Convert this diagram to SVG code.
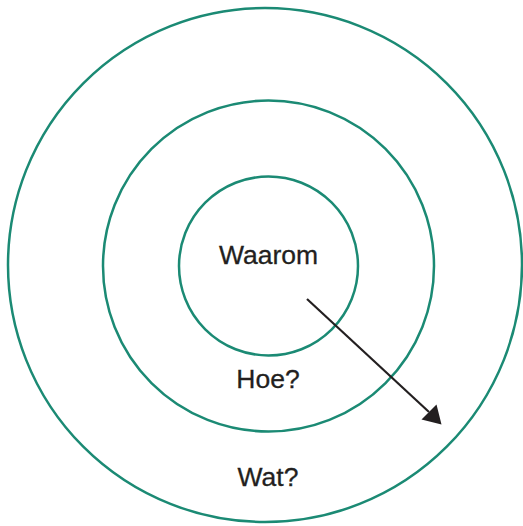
<svg xmlns="http://www.w3.org/2000/svg" width="523" height="526" viewBox="0 0 523 526">
<style>
.ring{fill:none;stroke:#1b8a74;stroke-width:2.5}
.lbl{font-family:"Liberation Sans",Arial,sans-serif;font-size:26.5px;fill:#231f20;stroke:#231f20;stroke-width:0.3;text-anchor:middle}
</style>
<rect width="523" height="526" fill="#ffffff"/>
<g id="outer"><circle class="ring" cx="265" cy="265" r="257"/><text class="lbl" x="268" y="486">Wat?</text></g>
<g id="middle"><circle class="ring" cx="268.5" cy="266" r="165.5"/><text class="lbl" x="268" y="388">Hoe?</text></g>
<g id="inner"><circle class="ring" cx="268.5" cy="266" r="89.5"/><text class="lbl" x="268.5" y="264">Waarom</text></g>
<g id="connectors">
<line x1="307" y1="299" x2="429" y2="412" stroke="#231f20" stroke-width="2.2"/>
<polygon points="441.5,424.5 421.5,419.5 436.5,404.5" fill="#231f20"/>
</g>
</svg>
